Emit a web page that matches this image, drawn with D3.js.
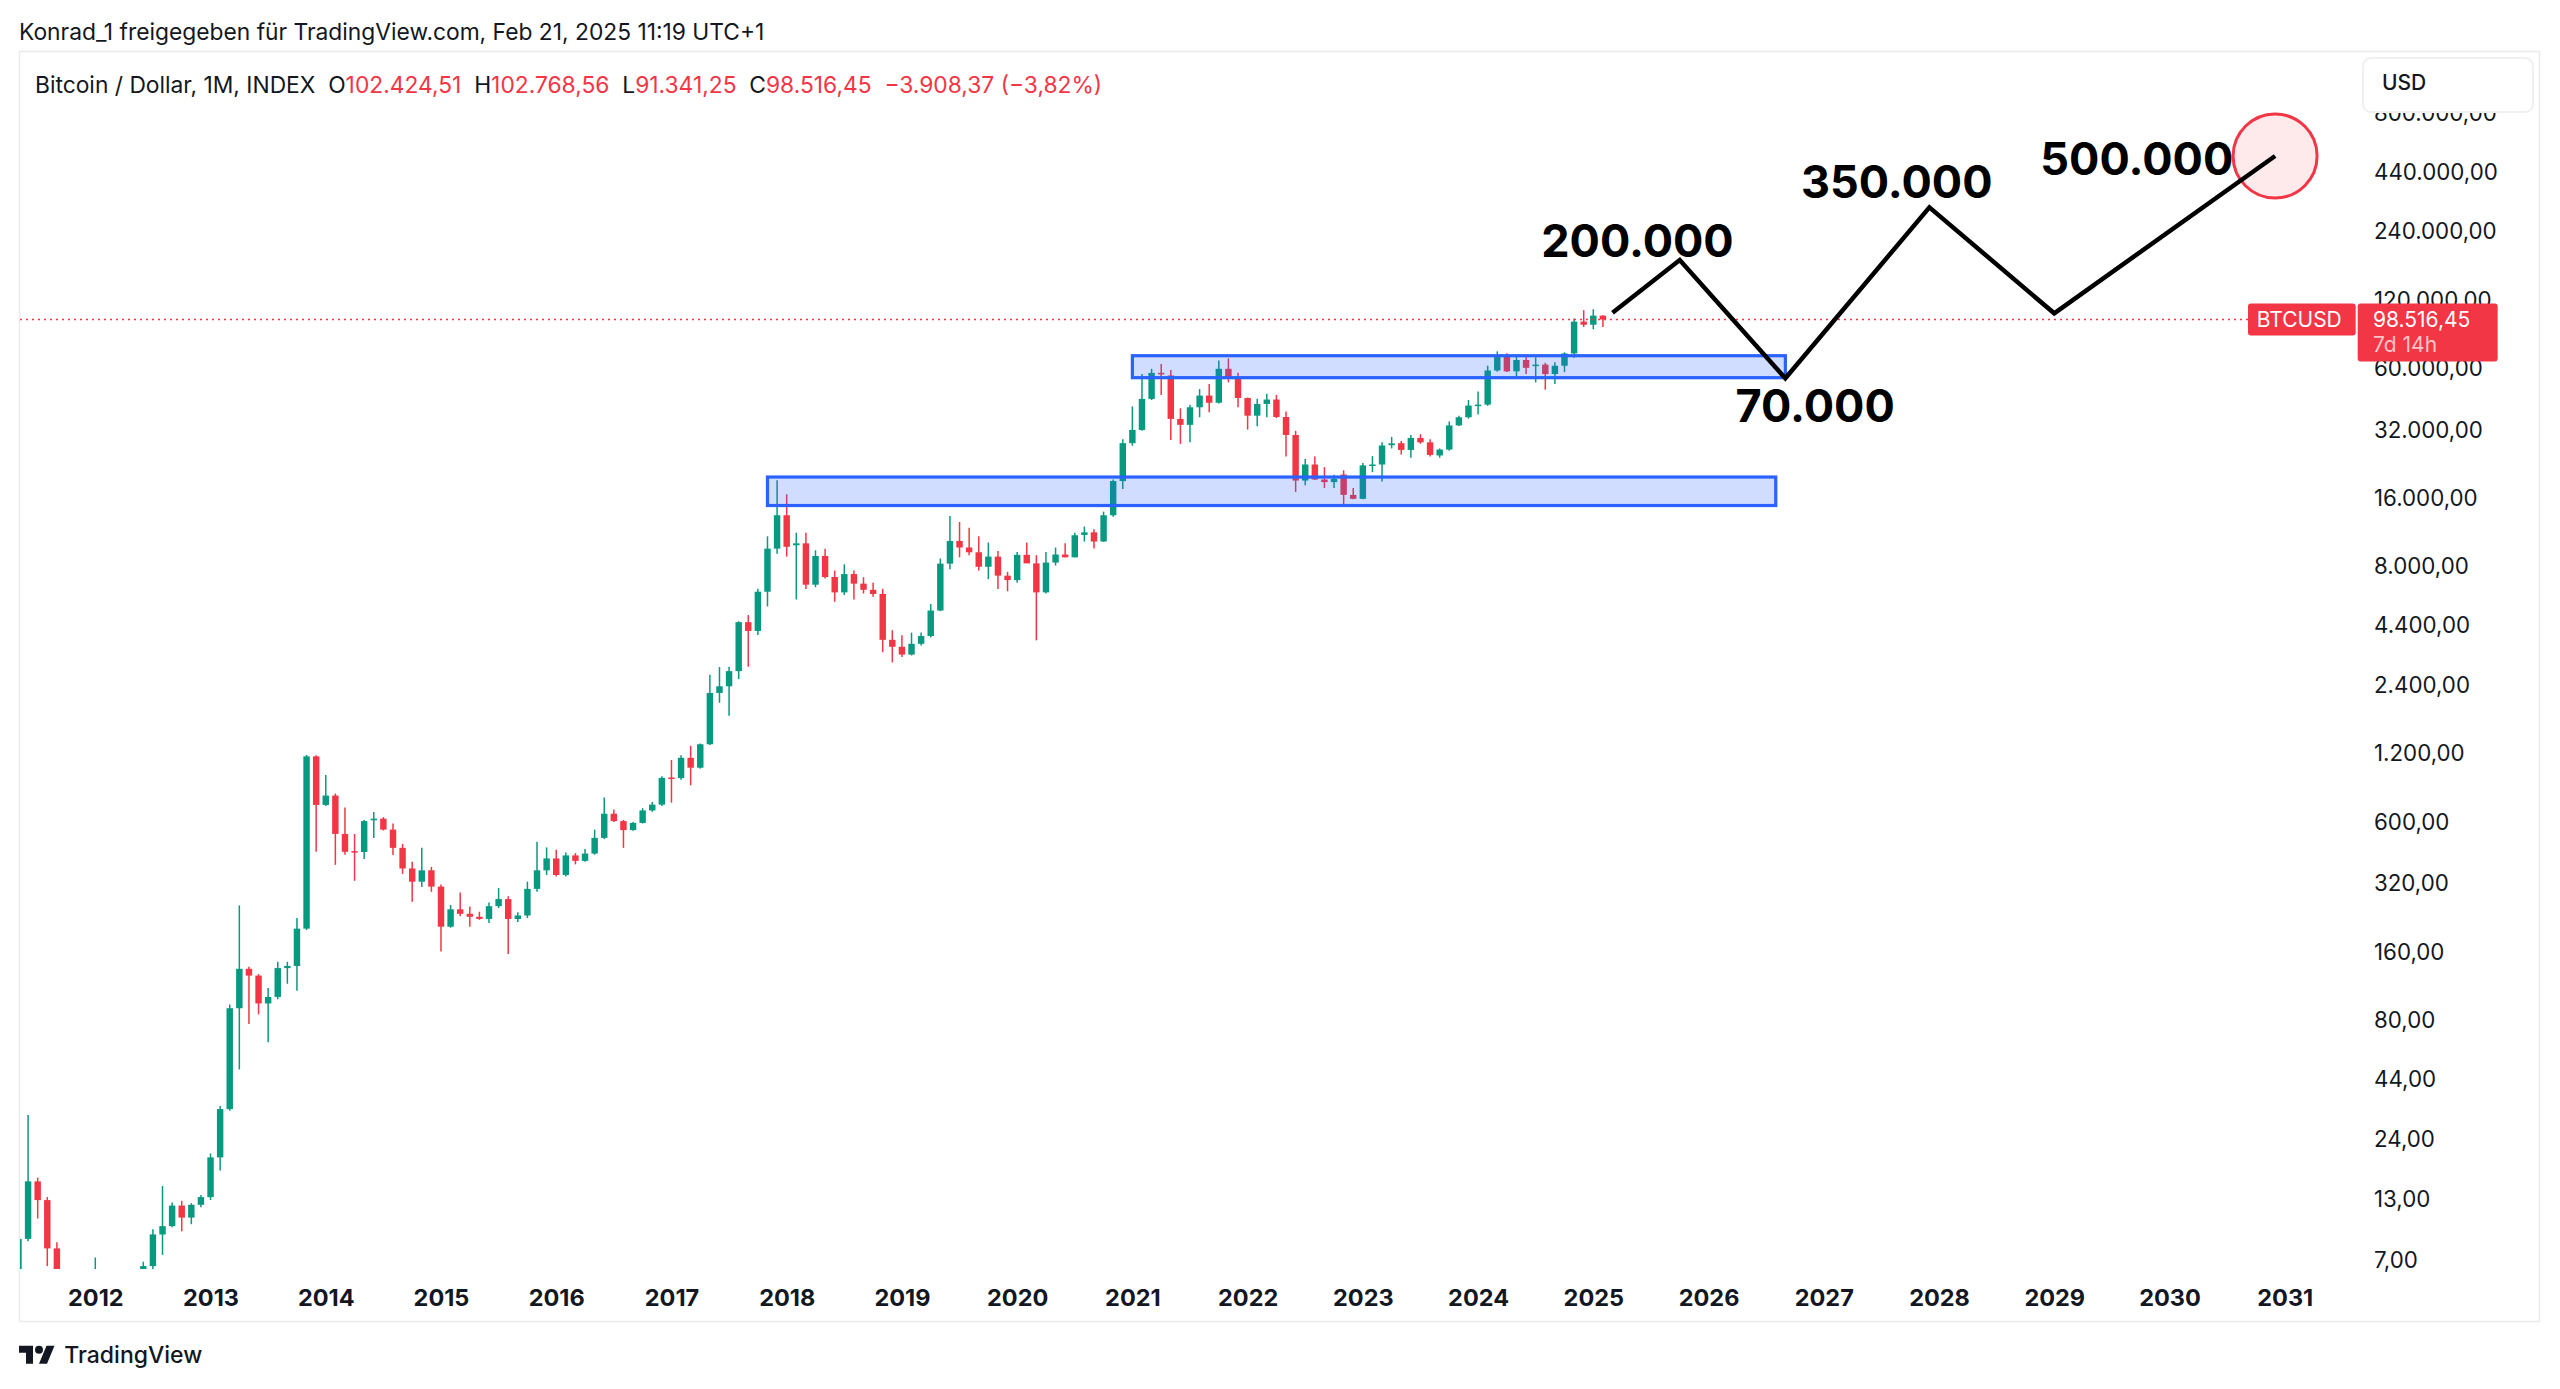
<!DOCTYPE html>
<html><head><meta charset="utf-8">
<script src="https://cdn.jsdelivr.net/npm/d3@7"></script>
<style>
html,body{margin:0;padding:0;background:#fff;}
svg{display:block;font-family:Inter,"Noto Sans",sans-serif;}
</style></head><body>
<svg id="chart" width="2560" height="1389"></svg>
<script>
// ---------------- DATA ----------------
const months = [
 "2011-05","2011-06","2011-07","2011-08","2011-09","2011-10","2011-11","2011-12",
 "2012-01","2012-02","2012-03","2012-04","2012-05","2012-06","2012-07","2012-08","2012-09","2012-10","2012-11","2012-12",
 "2013-01","2013-02","2013-03","2013-04","2013-05","2013-06","2013-07","2013-08","2013-09","2013-10","2013-11","2013-12",
 "2014-01","2014-02","2014-03","2014-04","2014-05","2014-06","2014-07","2014-08","2014-09","2014-10","2014-11","2014-12",
 "2015-01","2015-02","2015-03","2015-04","2015-05","2015-06","2015-07","2015-08","2015-09","2015-10","2015-11","2015-12",
 "2016-01","2016-02","2016-03","2016-04","2016-05","2016-06","2016-07","2016-08","2016-09","2016-10","2016-11","2016-12",
 "2017-01","2017-02","2017-03","2017-04","2017-05","2017-06","2017-07","2017-08","2017-09","2017-10","2017-11","2017-12",
 "2018-01","2018-02","2018-03","2018-04","2018-05","2018-06","2018-07","2018-08","2018-09","2018-10","2018-11","2018-12",
 "2019-01","2019-02","2019-03","2019-04","2019-05","2019-06","2019-07","2019-08","2019-09","2019-10","2019-11","2019-12",
 "2020-01","2020-02","2020-03","2020-04","2020-05","2020-06","2020-07","2020-08","2020-09","2020-10","2020-11","2020-12",
 "2021-01","2021-02","2021-03","2021-04","2021-05","2021-06","2021-07","2021-08","2021-09","2021-10","2021-11","2021-12",
 "2022-01","2022-02","2022-03","2022-04","2022-05","2022-06","2022-07","2022-08","2022-09","2022-10","2022-11","2022-12",
 "2023-01","2023-02","2023-03","2023-04","2023-05","2023-06","2023-07","2023-08","2023-09","2023-10","2023-11","2023-12",
 "2024-01","2024-02","2024-03","2024-04","2024-05","2024-06","2024-07","2024-08","2024-09","2024-10","2024-11","2024-12",
 "2025-01","2025-02"
];
const open = [
 3.9,8.7,15.6,12.9,7.9,5.1,3.2,3.0,
 4.7,5.5,4.9,4.9,5.0,5.2,6.6,9.1,9.9,12.2,10.8,12.3,
 13.3,19.9,32.5,90.5,135,126,95,101.5,136,139,203,1167,
 713,784,531,446,442,610,620,555,461,374,327,367,
 311,207,247,236,229,224,255,274,224,232,304,367,
 414,350,427,404,435,510,652,605,552,594,674,715,
 942,936,1150,1040,1320,2222,2378,2773,4560,4170,6210,9620,
 13500,9950,10150,6670,8930,7210,6170,7430,6740,6330,6070,3810,
 3550,3280,3660,3960,5130,8260,10400,9730,9270,8000,8870,7310,
 6990,9030,8280,6170,8350,9060,8810,11050,11350,10340,13500,19100,
 28060,32100,43990,57300,55800,35900,33800,40400,45500,42300,59700,54200,
 44400,37100,41800,43700,36600,30500,19200,22600,19400,18900,20400,16600,
 15950,22300,22600,27500,28050,26200,29600,28300,24770,26300,33600,36500,
 41100,41500,58700,68700,58200,65300,61800,62300,56600,61600,69800,96400,
 93400,102424.51
];
const high = [
 8.9,30.6,16.2,13.3,8.4,5.2,3.5,4.8,
 7.2,6.2,5.4,5.4,5.3,6.9,9.6,14.9,12.6,12.8,12.5,13.6,
 20.7,33.5,94,257,138,128,111,145,145,226,1183,1180,
 966,800,695,531,612,664,630,590,480,400,461,380,
 318,258,293,254,241,265,307,282,240,327,490,463,
 452,440,437,456,555,769,680,612,600,690,735,955,
 1125,1180,1300,1330,2675,2890,2900,4600,4900,6400,10900,19270,
 16700,11300,11300,9460,9600,7700,8200,7700,7200,6800,6400,4200,
 3990,4100,4100,5480,8700,13400,12600,11900,10900,10230,9400,7600,
 9300,10230,9000,9300,9730,10150,11300,12030,11720,14000,19400,29200,
 40750,56700,59700,62700,59000,40000,41400,48600,51200,64900,66400,57300,
 44600,44000,46300,45800,38700,31800,23900,24500,22000,20360,21300,17800,
 22960,24600,28300,29900,28700,30500,30700,29200,26600,35000,37100,43500,
 47400,61600,71300,69900,69200,69200,67100,63500,63800,70600,99600,108300,
 109300,102768.56
];
const low = [
 2.9,8.5,10.7,6.6,4.5,2.2,2.0,2.7,
 4.3,4.0,4.6,4.7,4.9,5.2,6.4,7.4,9.8,9.4,10.1,12.0,
 12.9,17.4,32,48.6,77,85,64,99,116,108,200,443,
 705,388,430,330,412,509,550,429,354,267,310,295,
 161,205,230,207,222,215,250,157,217,226,295,350,
 345,345,390,400,430,505,600,461,548,590,665,705,
 730,920,870,1030,1310,2011,1763,2560,2900,4000,5350,9120,
 8870,5740,6390,6500,7100,5610,6000,5740,6100,5900,3360,3030,
 3200,3250,3600,3900,5100,7800,8810,9000,7700,7060,6390,6240,
 6800,8400,3790,6100,8100,8800,8800,10340,9620,10300,13300,17600,
 27350,31800,43500,45800,29000,27860,28300,36500,38400,42000,52000,40400,
 32200,33300,36500,36200,24500,17100,18300,19300,17800,17800,15070,15900,
 15900,20900,19000,26600,25000,24200,27900,24500,24200,26000,33400,36000,
 37500,41000,58000,57800,54200,56600,52000,48300,51200,57700,66800,91300,
 89200,91341.25
];
const close = [
 8.7,15.6,12.9,7.9,5.1,3.2,3.0,4.7,
 5.5,4.9,4.9,5.0,5.2,6.6,9.1,9.9,12.2,10.8,12.3,13.3,
 19.9,32.5,90.5,135,126,95,101.5,136,139,203,1167,713,
 784,531,443,442,605,620,555,461,374,327,367,311,
 207,247,236,229,224,255,274,224,232,304,367,414,
 350,427,404,435,510,652,605,552,594,674,715,938,
 936,1150,1040,1320,2222,2378,2773,4560,4170,6210,9620,13500,
 9800,10150,6670,8930,7210,6170,7430,6740,6330,6070,3810,3550,
 3280,3660,3960,5130,8260,10400,9730,9270,8000,8870,7310,6990,
 9030,8280,6170,8350,9060,8810,11020,11350,10340,13500,19100,28060,
 32100,43990,57300,56700,35900,33800,40400,45500,42300,59700,54200,44400,
 37100,41800,43700,36600,30500,19200,22600,19400,18900,19540,16600,15950,
 22400,22600,27400,28000,26200,29600,28300,24900,26300,33600,36500,41100,
 41500,58700,68700,58200,65300,60300,62300,56600,61600,69800,96400,93400,
 102424.51,98516.45
];
const yTicks = [800000,440000,240000,120000,60000,32000,16000,8000,4400,2400,1200,600,320,160,80,44,24,13,7];
const yearTicks = [2012,2013,2014,2015,2016,2017,2018,2019,2020,2021,2022,2023,2024,2025,2026,2027,2028,2029,2030,2031];

// support / resistance zones
const zoneStart = ["2017-11","2021-01"];
const zoneEnd = ["2026-08","2026-09"];
const zoneTop = [19900,68200];
const zoneBottom = [14900,54560];

// projected path
const pathMonths = ["2025-03","2025-10","2026-09","2027-12","2029-01","2030-12"];
const pathPrices = [105500,180200,54230,307600,104900,518000];

// target labels (position in months since 2012-01, price at baseline)
const targetText = ["200.000","350.000","500.000","70.000"];
const targetMonth = [160.6,187.6,212.6,179.1];
const targetPrice = [186400,337200,427000,34900];

const headerSymbol = "Bitcoin / Dollar, 1M, INDEX";
const ohlcLabels = ["O","H","L","C"];
const ohlcValues = ["102.424,51","102.768,56","91.341,25","98.516,45"];
const changeText = "\u22123.908,37 (\u22123,82%)";

// ---------------- CHART ----------------
const GREEN = "#089981", RED = "#f23645", INK = "#131722";
const svg = d3.select("#chart");
const mi = s => { const [yy, mm] = s.split("-").map(Number); return (yy - 2012) * 12 + (mm - 1); };

const x = d3.scaleLinear().domain([0, 228]).range([95.3, 2284.7]);
const y = d3.scaleLog().domain([7, 800000]).range([1260.3, 113.2]);

const loc = d3.formatLocale({decimal: ",", thousands: ".", grouping: [3], currency: ["", ""]});
const fmt = loc.format(",.2f");

// pane frame
svg.append("rect").attr("x", 19.5).attr("y", 51.5).attr("width", 2520).attr("height", 1270)
  .attr("fill", "#fff").attr("stroke", "#ebebeb").attr("stroke-width", 1.5);

svg.append("defs").append("clipPath").attr("id", "plotClip")
  .append("rect").attr("x", 20).attr("y", 52).attr("width", 2337).attr("height", 1217);

const plot = svg.append("g").attr("clip-path", "url(#plotClip)");

const candles = months.map((m, i) => ({m: mi(m), o: open[i], h: high[i], l: low[i], c: close[i]}));
const bw = (x(1) - x(0)) * 0.67;
const col = d => d.c >= d.o ? GREEN : RED;

plot.append("g").selectAll("line").data(candles).join("line")
  .attr("x1", d => x(d.m)).attr("x2", d => x(d.m))
  .attr("y1", d => y(d.h)).attr("y2", d => y(d.l))
  .attr("stroke", col).attr("stroke-width", 1.5);
plot.append("g").selectAll("rect").data(candles).join("rect")
  .attr("x", d => x(d.m) - bw / 2).attr("width", bw)
  .attr("y", d => y(Math.max(d.o, d.c)))
  .attr("height", d => Math.max(1.5, Math.abs(y(d.o) - y(d.c))))
  .attr("fill", col);

// zones
plot.append("g").selectAll("rect").data(zoneStart).join("rect")
  .attr("x", (d, i) => x(mi(d)))
  .attr("width", (d, i) => x(mi(zoneEnd[i])) - x(mi(d)))
  .attr("y", (d, i) => y(zoneTop[i]))
  .attr("height", (d, i) => y(zoneBottom[i]) - y(zoneTop[i]))
  .attr("fill", "rgba(41,98,255,0.22)").attr("stroke", "#2962ff").attr("stroke-width", 3.2);

// current price line
const last = close[close.length - 1];
const yc = y(last);
plot.append("line").attr("x1", 20).attr("x2", 2248).attr("y1", yc).attr("y2", yc)
  .attr("stroke", RED).attr("stroke-width", 1.6).attr("stroke-dasharray", "2 4");

// projection circle + path
const pts = pathMonths.map((m, i) => [mi(m), pathPrices[i]]);
const endPt = pts[pts.length - 1];
plot.append("circle").attr("cx", x(endPt[0])).attr("cy", y(endPt[1])).attr("r", 42)
  .attr("fill", "rgba(242,54,69,0.11)").attr("stroke", RED).attr("stroke-width", 3);
plot.append("path").datum(pts)
  .attr("d", d3.line().x(d => x(d[0])).y(d => y(d[1])))
  .attr("fill", "none").attr("stroke", "#000").attr("stroke-width", 4.5)
  .attr("stroke-linejoin", "miter");

plot.append("g").selectAll("text").data(targetText).join("text")
  .attr("x", (d, i) => x(targetMonth[i])).attr("y", (d, i) => y(targetPrice[i]))
  .attr("text-anchor", "middle").attr("font-size", 45).attr("font-weight", 700)
  .attr("fill", "#000").text(d => d);

// y axis
const yAxis = d3.axisRight(y).tickValues(yTicks).tickFormat(fmt).tickSize(0).tickPadding(0);
const ya = svg.append("g").attr("transform", "translate(2374,0)").call(yAxis);
ya.select(".domain").remove();
ya.selectAll("text").attr("font-family", "Inter").attr("font-size", 22.3).attr("fill", INK);

// x axis
const xAxis = d3.axisBottom(x).tickValues(yearTicks.map(yr => (yr - 2012) * 12)).tickFormat((d, i) => yearTicks[i]).tickSize(0).tickPadding(0);
const xa = svg.append("g").attr("transform", "translate(0,1289.5)").call(xAxis);
xa.select(".domain").remove();
xa.selectAll("text").attr("font-family", "Inter").attr("font-size", 23.5).attr("font-weight", 700).attr("fill", INK);

// USD button
svg.append("rect").attr("x", 2363).attr("y", 58).attr("width", 170).attr("height", 54).attr("rx", 8)
  .attr("fill", "#fff").attr("stroke", "#f0f0f0").attr("stroke-width", 2);
svg.append("text").attr("x", 2382).attr("y", 90).attr("font-size", 21).attr("font-weight", 500).attr("fill", INK).text("USD");

// price labels
svg.append("rect").attr("x", 2248).attr("y", yc - 16).attr("width", 107.7).attr("height", 32).attr("rx", 3).attr("fill", RED);
svg.append("text").attr("x", 2256.7).attr("y", yc + 7.6).attr("font-size", 21).attr("fill", "#fff").text("BTCUSD");
svg.append("rect").attr("x", 2357.7).attr("y", yc - 16).attr("width", 140).attr("height", 58).attr("rx", 3).attr("fill", RED);
svg.append("text").attr("x", 2373).attr("y", yc + 7.2).attr("font-size", 21).attr("fill", "#fff").text(fmt(last));
svg.append("text").attr("x", 2373).attr("y", yc + 33).attr("font-size", 21).attr("fill", "#fff").attr("fill-opacity", 0.72).text("7d 14h");

// header
svg.append("text").attr("x", 19).attr("y", 40).attr("font-size", 22.8).attr("fill", INK)
  .text("Konrad_1 freigegeben f\u00fcr TradingView.com, Feb 21, 2025 11:19 UTC+1");
const hdr = svg.append("text").attr("x", 35).attr("y", 92.7).attr("font-size", 22.8).attr("fill", INK)
  .style("white-space", "pre");
hdr.append("tspan").text(headerSymbol + "  ");
ohlcLabels.forEach((l, i) => {
  hdr.append("tspan").attr("fill", INK).text((i ? "  " : "") + l);
  hdr.append("tspan").attr("fill", RED).text(ohlcValues[i]);
});
hdr.append("tspan").attr("fill", RED).text("  " + changeText);

// TradingView logo
const logo = svg.append("g").attr("transform", "translate(19,1341.7)").attr("fill", INK);
logo.append("path").attr("d", "M14 22H7V11H0V4h14v18zM28 22h-8l7.5-18h8L28 22z");
logo.append("circle").attr("cx", 20).attr("cy", 8).attr("r", 4);
svg.append("text").attr("x", 64.3).attr("y", 1363.3).attr("font-size", 23).attr("font-weight", 500).attr("fill", INK).text("TradingView");
</script>
</body></html>
